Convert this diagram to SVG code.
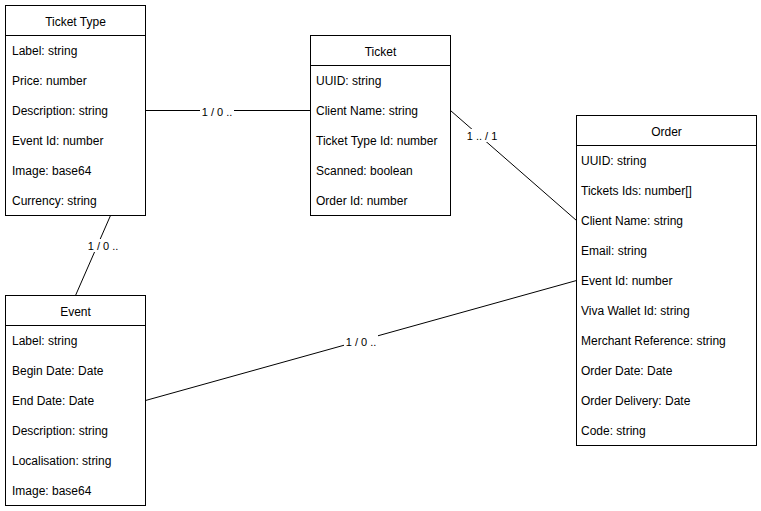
<svg xmlns="http://www.w3.org/2000/svg" width="761" height="511" viewBox="0 0 761 511">
  <style>
    .box { fill: #ffffff; stroke: #000000; stroke-width: 1; }
    .sep { stroke: #000000; stroke-width: 1; }
    .title { font-family: "Liberation Sans", Arial, sans-serif; font-size: 12px; fill: #000000; text-anchor: middle; dominant-baseline: central; }
    .row { font-family: "Liberation Sans", Arial, sans-serif; font-size: 12px; fill: #000000; dominant-baseline: central; }
    .edge { fill: none; stroke: #000000; stroke-width: 1; }
    .lbl { font-family: "Liberation Sans", Arial, sans-serif; font-size: 11px; fill: #000000; text-anchor: middle; dominant-baseline: central; }
    .lblbg { fill: #ffffff; }
  </style>
  <rect width="761" height="511" fill="#ffffff"/>

  <g id="connectors">
    <line class="edge" x1="145.5" y1="110.5" x2="310.5" y2="110.5"/>
    <rect class="lblbg" x="200" y="105" width="34" height="13"/>
    <text class="lbl" x="217" y="112">1 / 0 ..</text>

    <line class="edge" x1="450.5" y1="110.5" x2="576.5" y2="220.5"/>
    <rect class="lblbg" x="465" y="129" width="34" height="13"/>
    <text class="lbl" x="482" y="136">1 .. / 1</text>

    <line class="edge" x1="110.5" y1="215.5" x2="75.5" y2="295.5"/>
    <rect class="lblbg" x="86" y="239" width="34" height="13"/>
    <text class="lbl" x="103" y="246">1 / 0 ..</text>

    <line class="edge" x1="145.5" y1="400.5" x2="576.5" y2="280.5"/>
    <rect class="lblbg" x="344" y="335" width="34" height="13"/>
    <text class="lbl" x="361" y="342">1 / 0 ..</text>
  </g>

  <g id="ticket-type">
    <rect class="box" x="5.5" y="5.5" width="140" height="210"/>
    <line class="sep" x1="5.5" y1="35.5" x2="145.5" y2="35.5"/>
    <text class="title" x="75.5" y="21.5">Ticket Type</text>
    <text class="row" x="12" y="51">Label: string</text>
    <text class="row" x="12" y="81">Price: number</text>
    <text class="row" x="12" y="111">Description: string</text>
    <text class="row" x="12" y="141">Event Id: number</text>
    <text class="row" x="12" y="171">Image: base64</text>
    <text class="row" x="12" y="201">Currency: string</text>
  </g>

  <g id="ticket">
    <rect class="box" x="310.5" y="35.5" width="140" height="180"/>
    <line class="sep" x1="310.5" y1="65.5" x2="450.5" y2="65.5"/>
    <text class="title" x="380.5" y="51.5">Ticket</text>
    <text class="row" x="316" y="81">UUID: string</text>
    <text class="row" x="316" y="111">Client Name: string</text>
    <text class="row" x="316" y="141">Ticket Type Id: number</text>
    <text class="row" x="316" y="171">Scanned: boolean</text>
    <text class="row" x="316" y="201">Order Id: number</text>
  </g>

  <g id="order">
    <rect class="box" x="576.5" y="115.5" width="180" height="330"/>
    <line class="sep" x1="576.5" y1="145.5" x2="756.5" y2="145.5"/>
    <text class="title" x="666.5" y="131.5">Order</text>
    <text class="row" x="581" y="161">UUID: string</text>
    <text class="row" x="581" y="191">Tickets Ids: number[]</text>
    <text class="row" x="581" y="221">Client Name: string</text>
    <text class="row" x="581" y="251">Email: string</text>
    <text class="row" x="581" y="281">Event Id: number</text>
    <text class="row" x="581" y="311">Viva Wallet Id: string</text>
    <text class="row" x="581" y="341">Merchant Reference: string</text>
    <text class="row" x="581" y="371">Order Date: Date</text>
    <text class="row" x="581" y="401">Order Delivery: Date</text>
    <text class="row" x="581" y="431">Code: string</text>
  </g>

  <g id="event">
    <rect class="box" x="5.5" y="295.5" width="140" height="210"/>
    <line class="sep" x1="5.5" y1="325.5" x2="145.5" y2="325.5"/>
    <text class="title" x="75.5" y="311.5">Event</text>
    <text class="row" x="12" y="341">Label: string</text>
    <text class="row" x="12" y="371">Begin Date: Date</text>
    <text class="row" x="12" y="401">End Date: Date</text>
    <text class="row" x="12" y="431">Description: string</text>
    <text class="row" x="12" y="461">Localisation: string</text>
    <text class="row" x="12" y="491">Image: base64</text>
  </g>
</svg>
